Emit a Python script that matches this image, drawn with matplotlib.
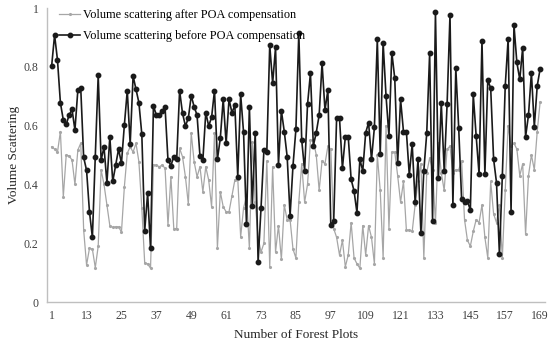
import numpy as np
import matplotlib
matplotlib.use("Agg")
import matplotlib.pyplot as plt

plt.rcParams['font.family'] = ['Liberation Serif', 'DejaVu Serif']

# volume scattering, plots 1..169
before_poa = [
    0.804, 0.908, 0.823, 0.678, 0.619, 0.604, 0.636, 0.655, 0.585, 0.721,
    0.727, 0.492, 0.448, 0.307, 0.220, 0.494, 0.771, 0.483, 0.527, 0.405,
    0.562, 0.410, 0.466, 0.520, 0.472, 0.602, 0.719, 0.537, 0.769, 0.723,
    0.678, 0.571, 0.243, 0.370, 0.183, 0.667, 0.636, 0.636, 0.651, 0.662,
    0.483, 0.464, 0.494, 0.485, 0.719, 0.642, 0.599, 0.625, 0.702, 0.664,
    0.636, 0.497, 0.483, 0.644, 0.599, 0.628, 0.719, 0.485, 0.557, 0.690,
    0.540, 0.690, 0.644, 0.669, 0.426, 0.706, 0.577, 0.264, 0.664, 0.327,
    0.576, 0.137, 0.319, 0.517, 0.512, 0.874, 0.744, 0.866, 0.466, 0.651,
    0.580, 0.494, 0.294, 0.464, 0.587, 0.914, 0.551, 0.447, 0.672, 0.778,
    0.532, 0.576, 0.636, 0.812, 0.653, 0.721, 0.262, 0.276, 0.625, 0.625,
    0.455, 0.562, 0.562, 0.417, 0.378, 0.304, 0.485, 0.446, 0.576, 0.610,
    0.485, 0.594, 0.893, 0.503, 0.882, 0.701, 0.565, 0.848, 0.761, 0.472,
    0.689, 0.580, 0.580, 0.432, 0.537, 0.341, 0.485, 0.234, 0.447, 0.574,
    0.846, 0.277, 0.985, 0.421, 0.678, 0.447, 0.672, 0.976, 0.330, 0.795,
    0.591, 0.349, 0.340, 0.343, 0.313, 0.706, 0.565, 0.435, 0.889, 0.435,
    0.755, 0.727, 0.486, 0.406, 0.163, 0.429, 0.735, 0.895, 0.307, 0.942,
    0.815, 0.757, 0.865, 0.562, 0.636, 0.780, 0.596, 0.735, 0.793,
]

after_poa = [
    0.528, 0.520, 0.510, 0.580, 0.358, 0.500, 0.497, 0.483, 0.400, 0.517,
    0.540, 0.245, 0.126, 0.183, 0.180, 0.117, 0.190, 0.450, 0.400, 0.330,
    0.260, 0.254, 0.256, 0.256, 0.238, 0.392, 0.506, 0.528, 0.510, 0.540,
    0.477, 0.320, 0.132, 0.130, 0.115, 0.466, 0.466, 0.460, 0.466, 0.455,
    0.262, 0.426, 0.250, 0.250, 0.523, 0.494, 0.426, 0.333, 0.574, 0.477,
    0.426, 0.460, 0.375, 0.460, 0.415, 0.324, 0.574, 0.183, 0.375, 0.324,
    0.307, 0.307, 0.360, 0.415, 0.420, 0.222, 0.320, 0.360, 0.183, 0.545,
    0.340, 0.220, 0.170, 0.200, 0.480, 0.120, 0.460, 0.170, 0.260, 0.145,
    0.330, 0.280, 0.280, 0.180, 0.150, 0.340, 0.470, 0.340, 0.400, 0.550,
    0.550, 0.500, 0.380, 0.480, 0.470, 0.530, 0.520, 0.250, 0.220, 0.160,
    0.210, 0.120, 0.160, 0.270, 0.150, 0.130, 0.115, 0.260, 0.160, 0.260,
    0.220, 0.130, 0.500, 0.380, 0.150, 0.600, 0.250, 0.510, 0.510, 0.430,
    0.340, 0.410, 0.245, 0.245, 0.240, 0.330, 0.410, 0.470, 0.150, 0.440,
    0.490, 0.450, 0.270, 0.540, 0.440, 0.380, 0.520, 0.530, 0.440, 0.450,
    0.450, 0.480, 0.280, 0.210, 0.190, 0.240, 0.280, 0.270, 0.330, 0.220,
    0.150, 0.410, 0.300, 0.270, 0.330, 0.150, 0.380, 0.600, 0.530, 0.540,
    0.520, 0.430, 0.470, 0.230, 0.430, 0.500, 0.450, 0.580, 0.680,
]

plots = np.arange(1, len(before_poa) + 1)
x_ticks = list(range(1, 170, 12))
y_ticks = [0, 0.2, 0.4, 0.6, 0.8, 1]
y_tick_labels = ['0', '0.2', '0.4', '0.6', '0.8', '1']

fig = plt.figure(figsize=(5.5, 3.48), dpi=100)
ax = fig.add_axes([0.0855, 0.132, 0.905, 0.845])

ax.plot(plots, after_poa, color='#a6a6a6', lw=0.9, marker='.', ms=2.5,
        label='Volume scattering after POA compensation')
ax.plot(plots, before_poa, color='#1a1a1a', lw=1.2, marker='o', ms=3.2,
        label='Volume scattering before POA compensation')

ax.set_xlim(-0.6, 170.6)
ax.set_ylim(0, 1)
ax.set_xticks(x_ticks)
ax.set_yticks(y_ticks)
ax.set_yticklabels(y_tick_labels)
ax.tick_params(length=0, labelsize=8.5, colors='#404040', pad=6)
for s in ['top', 'right']:
    ax.spines[s].set_visible(False)
for s in ['left', 'bottom']:
    ax.spines[s].set_color('#bfbfbf')
    ax.spines[s].set_linewidth(1.0)

ax.set_xlabel('Number of Forest Plots', fontsize=9.5, color='#262626', labelpad=5)
ax.set_ylabel('Volume Scattering', fontsize=9.5, color='#262626', labelpad=3)

ax.legend(loc='upper left', bbox_to_anchor=(0.01, 1.02), frameon=False,
          fontsize=8.8, handlelength=1.7, handletextpad=0.2, labelspacing=0.7,
          borderaxespad=0.2)

fig.savefig('out.png', dpi=100)
